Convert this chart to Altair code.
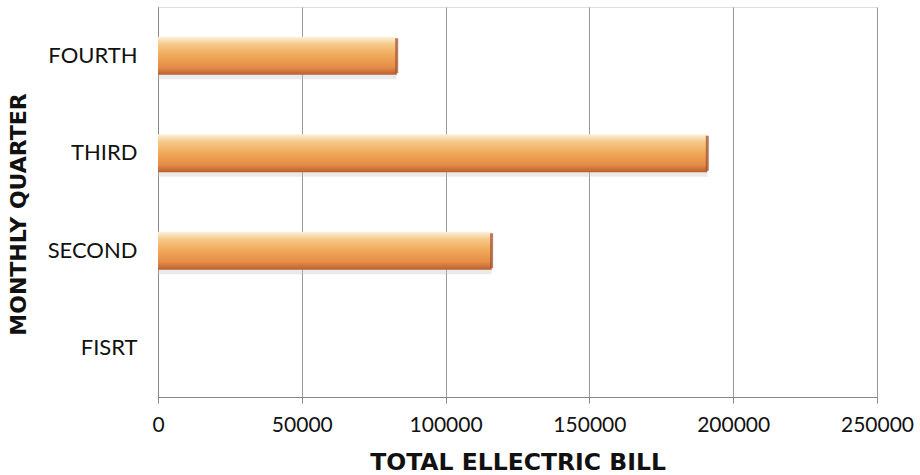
import altair as alt
import pandas as pd

categories = ["FOURTH", "THIRD", "SECOND", "FISRT"]
values = [83000, 191000, 116000, 0]
x_ticks = [0, 50000, 100000, 150000, 200000, 250000]

df = pd.DataFrame({"quarter": categories, "bill": values})

FONT = "Lato"
TFONT = "DejaVu Sans"

y_enc = alt.Y("quarter:N", sort=categories,
              scale=alt.Scale(paddingInner=0, paddingOuter=0),
              axis=alt.Axis(title="MONTHLY QUARTER", labelFontSize=22, labelFont=FONT,
                            labelColor="#111", labelPadding=21, ticks=False,
                            domain=True, domainColor="#888", domainWidth=1,
                            titleFont=TFONT, titleFontSize=22, titleFontWeight="bold",
                            titleColor="#111", titleAngle=270, titleX=-140, titleY=207,
                            titleAlign="center", titleBaseline="middle"))

x_enc = alt.X("bill:Q", scale=alt.Scale(domain=[0, 250000], nice=False),
              axis=alt.Axis(title="TOTAL ELLECTRIC BILL", values=x_ticks, format="d",
                            labelFontSize=21, labelFont=FONT, labelColor="#111",
                            labelPadding=11, tickSize=6, tickColor="#888",
                            domainColor="#888", gridColor="#999", gridWidth=1,
                            titleFont=TFONT, titleFontSize=23.5, titleFontWeight="bold",
                            titleColor="#111", titlePadding=15, labelFlush=False))

shadow = alt.Chart(df).mark_bar(size=37, color="#c8c0c8", opacity=0.35, yOffset=5).encode(
    x=x_enc, y=y_enc)

bars = alt.Chart(df).mark_bar(
    size=38,
    color=alt.Gradient(
        gradient="linear", x1=0, y1=0, x2=0, y2=1,
        stops=[
            alt.GradientStop(color="#fdf2dc", offset=0),
            alt.GradientStop(color="#f6c888", offset=0.2),
            alt.GradientStop(color="#f0a858", offset=0.5),
            alt.GradientStop(color="#e58c48", offset=0.8),
            alt.GradientStop(color="#b8602e", offset=1),
        ],
    ),
).encode(x=x_enc, y=y_enc)

caps = alt.Chart(df[df["bill"] > 0]).mark_tick(
    orient="vertical", size=35, thickness=3, color="#9a4a28"
).encode(x=x_enc, y=y_enc)

chart = alt.layer(shadow, bars, caps).properties(
    width=719, height=390,
    autosize=alt.AutoSizeParams(type="none"),
    padding={"left": 158, "top": 7, "right": 43, "bottom": 78},
).configure_view(stroke=None).configure(background="white")

chart.save("out.html", embed_options={"renderer": "svg", "actions": False})
